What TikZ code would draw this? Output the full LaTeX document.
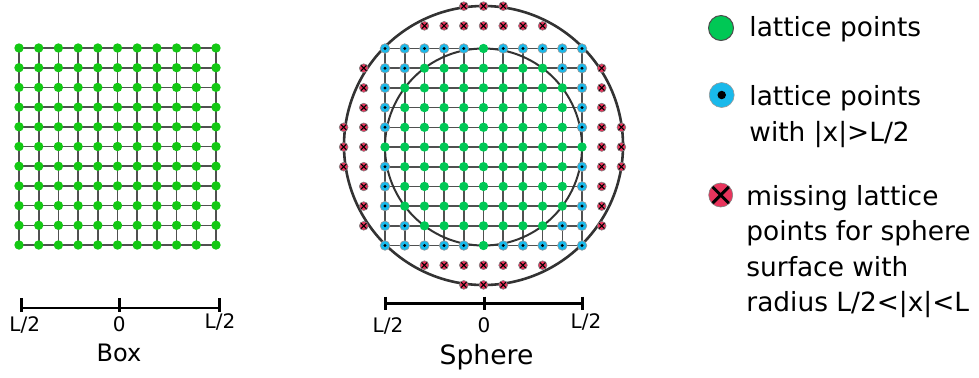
\documentclass[tikz,border=0pt]{standalone}
\usepackage{fontspec}
\setmainfont{DejaVu Sans}
\usetikzlibrary{backgrounds}
\definecolor{boxgreen}{RGB}{20,200,20}
\definecolor{latgreen}{RGB}{0,200,85}
\definecolor{latblue}{RGB}{25,185,235}
\definecolor{latred}{RGB}{232,52,92}
\definecolor{linegray}{RGB}{80,80,80}
\begin{document}
\begin{tikzpicture}[x=0.5pt,y=0.5pt,
  gdot/.style={circle,fill=#1,inner sep=0pt,minimum size=4.7pt},
  bdot/.style={circle,fill=latblue,draw=black!40,line width=0.3pt,inner sep=0pt,minimum size=#1,
    path picture={\fill[black] (path picture bounding box.center) circle ({0.17*#1});}},
  rdot/.style={circle,fill=latred,draw=black!50,line width=0.3pt,inner sep=0pt,minimum size=#1,
    path picture={\draw[black,line width=0.12*#1]
      (path picture bounding box.south west) -- (path picture bounding box.north east)
      (path picture bounding box.north west) -- (path picture bounding box.south east);}},
  gridline/.style={draw=linegray,line width=0.8pt},
  ring/.style={draw=black!80,line width=#1},
  axisline/.style={line width=1.2pt},
  tick/.style={line width=1.5pt},
  ticklabel/.style={anchor=base,inner sep=0pt,font=\fontsize{10}{12}\selectfont},
  legtext/.style={anchor=base west,align=left,inner sep=0pt,font=\fontsize{13.2}{17.75}\selectfont}]
\useasboundingbox (0,0) rectangle (979,-377);

% box lattice
\foreach \i in {-5,...,5}
  \foreach \j in {-5,...,5}
    \node[gdot=boxgreen] (b\i-\j) at ({117.5+19.7*\i},{-146.5+19.7*\j}) {};

% sphere lattice, points outside the inner circle in blue
\foreach \i in {-5,...,5}
  \foreach \j in {-5,...,5} {
    \pgfmathtruncatemacro\rsq{\i*\i+\j*\j}
    \ifnum\rsq>25
      \node[bdot=4.8pt] (s\i-\j) at ({483.5+19.7*\i},{-147+19.7*\j}) {};
    \else
      \node[gdot=latgreen] (s\i-\j) at ({483.5+19.7*\i},{-147+19.7*\j}) {};
    \fi
  }

% missing points between the circles
\foreach \i in {-3,...,3} {
  \node[rdot=4.4pt] (rt\i) at ({483.5+19.7*\i},{-147+19.7*6.15}) {};
  \node[rdot=4.4pt] (rb\i) at ({483.5+19.7*\i},{-147-19.7*6}) {};
}
\foreach \j in {-4,...,4} {
  \node[rdot=4.4pt] (rl\j) at ({483.5-19.7*6.08},{-147+19.7*\j}) {};
  \node[rdot=4.4pt] (rr\j) at ({483.5+19.7*6},{-147+19.7*\j}) {};
}
\foreach \k in {-1,0,1} {
  \node[rdot=4.4pt] (rtt\k) at ({483.5+19.7*\k},{-147+19.7*7.15}) {};
  \node[rdot=4.4pt] (rbb\k) at ({483.5+19.7*\k},{-147-19.7*7}) {};
  \node[rdot=4.4pt] (rll\k) at ({483.5-19.7*7.1},{-147+19.7*\k}) {};
  \node[rdot=4.4pt] (rrr\k) at ({483.5+19.7*7},{-147+19.7*\k}) {};
}

\coordinate (ic) at (483.5,-147);
\coordinate (oc) at (483.5,-145.5);
\begin{scope}[on background layer]
\foreach \k in {-5,...,5} {
  \draw[gridline] (b\k-5.center) -- (b\k--5.center);
  \draw[gridline] (b-5-\k.center) -- (b5-\k.center);
  \draw[gridline] (s\k-5.center) -- (s\k--5.center);
  \draw[gridline] (s-5-\k.center) -- (s5-\k.center);
}
\draw[ring=1pt] (ic) circle (98.5);
\draw[ring=1.3pt] (oc) circle (139.5);
\end{scope}

% axes
\coordinate (bxl) at (21.7,-307.7);
\coordinate (bx0) at (119.3,-307.7);
\coordinate (bxr) at (219,-307.7);
\draw[axisline] (bxl) -- (bxr);
\foreach \c in {bxl,bx0,bxr}
  \draw[tick] ([yshift=4.7pt]\c) -- ([yshift=-2pt]\c);
\node[ticklabel] (bll) at (24.7,-331.7) {L/2};
\node[ticklabel] (bl0) at (119.3,-331.7) {0};
\node[ticklabel] (blr) at (220,-328.3) {L/2};
\node[anchor=base,inner sep=0pt,font=\fontsize{12}{14}\selectfont] (boxlab) at (119,-361) {Box};

\coordinate (sxl) at (385.7,-303.3);
\coordinate (sx0) at (484,-303.3);
\coordinate (sxr) at (582.3,-303.3);
\draw[axisline] (sxl) -- (sxr);
\foreach \c in {sxl,sx0,sxr}
  \draw[tick] ([yshift=3.4pt]\c) -- ([yshift=-3.4pt]\c);
\node[ticklabel] (sll) at (388,-332.7) {L/2};
\node[ticklabel] (sl0) at (484,-332.7) {0};
\node[ticklabel] (slr) at (586,-328.3) {L/2};
\node[anchor=base,inner sep=0pt,font=\fontsize{13.3}{16}\selectfont] (sphlab) at (486.5,-364) {Sphere};

% legend
\node[gdot=latgreen,draw=black!70,line width=0.5pt,minimum size=12.5pt] (lg) at (721,-28) {};
\node[legtext] (lgt) at (749,-36) {lattice points};
\node[bdot=12.5pt] (lb) at (721.7,-95) {};
\node[legtext] (lbt) at (749,-141) {lattice points\\with |x|>L/2};
\node[rdot=12pt] (lr) at (720.7,-195) {};
\node[legtext] (lrt) at (746,-311.5) {missing lattice\\points for sphere\\surface with\\radius L/2<|x|<L};
\end{tikzpicture}
\end{document}
